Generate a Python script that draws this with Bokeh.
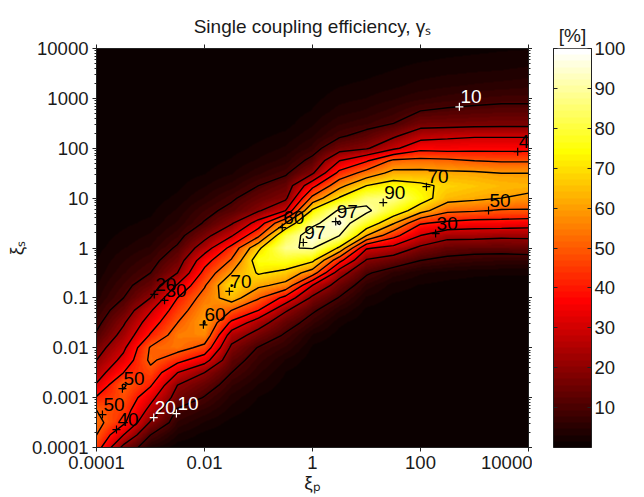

import numpy as np
from bokeh.plotting import figure
from bokeh.layouts import row
from bokeh.models import (ColumnDataSource, FixedTicker, LinearAxis,
                          LinearColorMapper, Range1d, Title)
from bokeh.core.properties import value
from bokeh.embed import file_html
from bokeh.resources import INLINE

TITLE = "Single coupling efficiency, γₛ"
XLABEL = "ξₚ"
YLABEL = "ξₛ"
BAR_TITLE = "[%]"
FONT = "Liberation Sans"

# decades of xi_p and xi_s on which the efficiency grid was read
xi_p_exp = [-4 + 0.5 * i for i in range(17)]
xi_s_exp = [-4 + 0.25 * i for i in range(33)]

# efficiency (%) per xi_p column, bottom (xi_s=1e-4) to top (xi_s=1e4)
c00 = [45,50,53,50,41,31,25,20,15.7,11,8,6,4,3,2,1.5,1,.7,.5,.3,.2,.1,.1,0,0,0,0,0,0,0,0,0,0]
c01 = [17,30,42,45,48,51,40,33,28,23,19,14,10,8,6,4.5,3,2,1.2,.8,.5,.3,.2,.1,0,0,0,0,0,0,0,0,0]
c02 = [4,10,19,27,33,41,47,52,51,41,35,29,20,14,10,7.5,5,3.5,2,1.2,.7,.4,.2,.1,0,0,0,0,0,0,0,0,0]
c03 = [.5,3,6,9,16,20,30,43,54,55,50,45,40,31,20,15,11,7.5,5,3.5,2,1.2,.7,.4,.2,.1,0,0,0,0,0,0,0]
c04 = [.1,1,3,6,9.5,14,20,34,47,57,60.5,58,54,49,43,36,25,17,10.5,8,5,3,1.5,.8,.4,.2,.1,0,0,0,0,0,0]
c05 = [0,.2,1,2.5,4,6.5,10,13,18,25,38,50,65,70.5,60,51,43,29,19,12,9,5.5,3,1.8,1,.6,.3,.1,0,0,0,0,0]
c06 = [0,0,.2,.7,1.5,3,5,7,9.5,16,24,40,51,62,71,76,68,48,34,19,14,10,6,3.5,2,1.2,.7,.4,.2,.1,0,0,0]
c07 = [0,0,0,0,.3,.8,1.5,3,6,9,13.5,21,37,57,67,78,89,81,60,30,18,14,9,5.5,3.5,2,1,.6,.3,.1,0,0,0]
c08 = [0,0,0,0,0,.1,.3,.6,1.2,3,7,11,18,30,55,72,91,97,87,72,53,37,19,12,7,4.5,2.8,1.7,1,.5,.3,.1,0]
c09 = [0,0,0,0,0,0,.1,.2,.5,1,2,5,9.5,15,24,43,68,90,98,92,71,57,43,30,16,9,6,3.8,2.5,1.5,.9,.5,.2]
c10 = [0,0,0,0,0,0,0,0,0,0,.5,1.2,3,6,11,19,31,60,78,93,85,70,54,39,19,12.5,7.5,5,3.2,2,1.2,.7,.3]
c11 = [0,0,0,0,0,0,0,0,0,0,.2,.5,1.2,2.4,6,15,27,43,61,77,88,75,63,52,28,18.5,10,7,4.5,2.8,1.8,1,.4]
c12 = [0,0,0,0,0,0,0,0,0,0,.1,.3,.7,1.5,3.5,10,18,30,41,64,75,72,63,53,37,26,16,10,6,3.8,2.5,1.5,.7]
c13 = [0,0,0,0,0,0,0,0,0,0,.1,.2,.5,1,2.5,8,14,23,38,52,64,68,62,52,36,28,16,11,7,4.5,3,1.8,1]
c14 = [0,0,0,0,0,0,0,0,0,0,0,.1,.4,.8,2,7,13,23,36,51,62,66,61.5,50,37,29,16.5,11.5,8,5,3.3,2,1.2]
c15 = [0,0,0,0,0,0,0,0,0,0,0,0,.3,.7,1.8,6.5,13,22,36,49,60,64,60,49,37,29,17,12,8.5,5.5,3.5,2.2,1.4]
c16 = [0,0,0,0,0,0,0,0,0,0,0,0,.3,.7,1.8,6.5,14,22,35,49,58,63,60,49,37,29,17,12,8.5,6,4,2.5,1.5]

levels = [10, 20, 30, 40, 50, 60, 70, 90, 97]

# contour labels: decade position of each little cross, text, colour
label_xe = [2.72, 3.80, 2.11, 1.31, 3.26, 2.28, 0.43, -0.17, -0.56, -1.54, -2.02, -2.74, -2.93, -3.52, -3.89, -3.63, -2.94, -2.52]
label_ye = [2.83, 1.93, 1.23, 0.91, 0.75, 0.29, 0.53, 0.11, 0.41, -0.87, -1.54, -1.05, -0.93, -2.82, -3.34, -3.64, -3.40, -3.32]
label_tx = ["10", "40", "70", "90", "50", "30", "97", "97", "60", "70", "60", "30", "20", "50", "50", "40", "20", "10"]
label_col = ["white", "black", "black", "black", "black", "black", "black", "black", "black", "black",
             "black", "black", "black", "black", "black", "black", "white", "white"]

tick_values_y = [-4, -3, -2, -1, 0, 1, 2, 3, 4]
tick_labels_y = ["0.0001", "0.001", "0.01", "0.1", "1", "10", "100", "1000", "10000"]
tick_values_x = [-4, -2, 0, 2, 4]
tick_labels_x = ["0.0001", "0.01", "1", "100", "10000"]
bar_ticks = [10, 20, 30, 40, 50, 60, 70, 80, 90, 100]


def hot(n=64):
    m = int(3 * n / 8)
    out = []
    for i in range(n):
        r = min(1, (i + 1) / m)
        g = min(1, max(0, (i + 1 - m) / m))
        b = min(1, max(0, (i + 1 - 2 * m) / (n - 2 * m)))
        out.append("#%02x%02x%02x" % (round(r * 255), round(g * 255), round(b * 255)))
    return out


palette = hot()
z = np.array([c00, c01, c02, c03, c04, c05, c06, c07, c08, c09, c10, c11, c12, c13, c14, c15, c16], float).T
xe = np.array(xi_p_exp)
ye = np.array(xi_s_exp)

# resample the read grid only for the smooth shading of the picture
fx = np.linspace(-4, 4, 433)
fy = np.linspace(-4, 4, 400)
tmp = np.array([np.interp(fx, xe, r) for r in z])
smooth = np.array([np.interp(fy, ye, col) for col in tmp.T]).T

mapper = LinearColorMapper(palette=palette, low=0, high=100)
H = 497

p = figure(width=532, height=H, output_backend="svg", toolbar_location=None,
           x_range=Range1d(-4, 4), y_range=Range1d(-4, 4),
           frame_width=432, frame_height=399,
           min_border_left=96, min_border_right=4, min_border_top=48, min_border_bottom=50,
           outline_line_color="#222222", background_fill_color="white")
p.title = Title(text=TITLE, align="center", text_font=FONT, text_font_size="19px",
                text_font_style="normal", text_color="#1a1a1a", standoff=15)
p.grid.visible = False
p.image(image=[smooth], x=-4, y=-4, dw=8, dh=8, color_mapper=mapper)
p.contour(xe, ye, z, levels=levels, line_color="black", line_width=1.4)

src = ColumnDataSource(dict(x=label_xe, y=label_ye, t=label_tx, c=label_col))
p.scatter("x", "y", source=src, marker="cross", size=8, line_color="c", line_width=1.2)
p.text("x", "y", text="t", source=src, text_color="c", text_font=value(FONT), text_font_size="19px",
       text_align="left", text_baseline="middle", x_offset=1, y_offset=-10)

minor_y = [d + np.log10(k) for d in range(-4, 4) for k in range(2, 10)]
yticker = FixedTicker(ticks=tick_values_y, minor_ticks=minor_y)
xticker = FixedTicker(ticks=tick_values_x)


def style(ax, labelled):
    ax.axis_line_color = "#222222"
    ax.major_tick_line_color = "#222222"
    ax.minor_tick_line_color = "#222222"
    ax.major_tick_in = 0
    ax.major_tick_out = 4
    ax.minor_tick_in = 0
    ax.minor_tick_out = 2
    if labelled:
        ax.major_label_text_font = FONT
        ax.major_label_text_font_size = "18.5px"
        ax.major_label_text_color = "#1a1a1a"
        ax.major_label_standoff = 4
        ax.axis_label_text_font = FONT
        ax.axis_label_text_font_size = "19px"
        ax.axis_label_text_font_style = "normal"
        ax.axis_label_text_color = "#1a1a1a"
    else:
        ax.major_label_text_font_size = "0px"
        ax.major_label_standoff = 0


style(p.xaxis[0], True)
p.xaxis[0].ticker = xticker
p.xaxis[0].major_label_overrides = dict(zip(tick_values_x, tick_labels_x))
p.xaxis[0].axis_label = XLABEL
p.xaxis[0].axis_label_standoff = 0
style(p.yaxis[0], True)
p.yaxis[0].ticker = yticker
p.yaxis[0].major_label_overrides = dict(zip(tick_values_y, tick_labels_y))
p.yaxis[0].axis_label = YLABEL
p.yaxis[0].axis_label_standoff = 2

top = LinearAxis(ticker=xticker, major_label_overrides={v: "" for v in tick_values_x})
style(top, False)
p.add_layout(top, "above")
right = LinearAxis(ticker=yticker, major_label_overrides={v: "" for v in tick_values_y})
style(right, False)
p.add_layout(right, "right")

bar = figure(width=108, height=H, output_backend="svg", toolbar_location=None,
             x_range=Range1d(0, 1), y_range=Range1d(0, 100),
             frame_width=38, frame_height=399,
             min_border_left=21, min_border_right=49, min_border_top=48, min_border_bottom=50,
             outline_line_color="#222222", background_fill_color="white")
bar.title = Title(text=BAR_TITLE, align="center", text_font=FONT, text_font_size="19px",
                  text_font_style="normal", text_color="#1a1a1a", standoff=5)
bar.grid.visible = False
bar.xaxis.visible = False
bar.image(image=[np.arange(64, dtype=float).reshape(64, 1)], x=0, y=0, dw=1, dh=100,
          color_mapper=LinearColorMapper(palette=palette, low=0, high=63))
bar.yaxis[0].visible = False
bt = FixedTicker(ticks=bar_ticks, minor_ticks=[])
ra = LinearAxis(ticker=bt, major_label_overrides={v: str(v) for v in bar_ticks})
ra.axis_line_color = "#222222"
ra.major_tick_line_color = "#222222"
ra.major_tick_in = 4
ra.major_tick_out = 0
ra.minor_tick_out = 0
ra.major_label_text_font = FONT
ra.major_label_text_font_size = "18.5px"
ra.major_label_text_color = "#1a1a1a"
ra.major_label_standoff = 3
bar.add_layout(ra, "right")
la = LinearAxis(ticker=bt, major_label_overrides={v: "" for v in bar_ticks})
la.axis_line_color = "#222222"
la.major_tick_line_color = "#222222"
la.major_tick_in = 4
la.major_tick_out = 0
la.minor_tick_out = 0
la.major_label_text_font_size = "0px"
la.major_label_standoff = 0
bar.add_layout(la, "left")

layout = row(p, bar)
open("out.html", "w").write(file_html(layout, INLINE))
